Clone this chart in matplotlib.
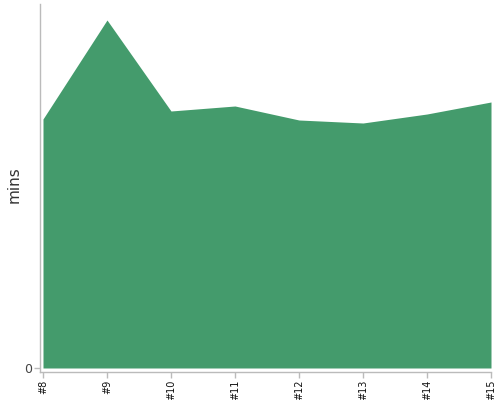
import matplotlib
matplotlib.use("Agg")
import matplotlib.pyplot as plt

races = [8, 9, 10, 11, 12, 13, 14, 15]
labels = ["#8", "#9", "#10", "#11", "#12", "#13", "#14", "#15"]
mins = [249, 348, 257, 262, 248, 245, 254, 266]

fig = plt.figure(figsize=(5, 4), dpi=100)
ax = fig.add_axes([0.08, 0.07, 0.902, 0.92])
ax.fill_between(races, mins, 0, color="#449b6c", linewidth=0)
ax.set_xlim(8 - 3/64, 15)
ax.set_ylim(-4, 364)
ax.set_xticks(races)
ax.set_xticklabels(labels, rotation=90, fontsize=7, color="#111111")
ax.set_yticks([0])
ax.set_yticklabels(["0"], fontsize=9, color="#444444")
ax.set_ylabel("mins", fontsize=11, color="#333333")
ax.yaxis.set_label_coords(-0.04, 0.51)
for s in ["top", "right"]:
    ax.spines[s].set_visible(False)
for s in ["left", "bottom"]:
    ax.spines[s].set_color("#bbbbbb")
    ax.spines[s].set_linewidth(1)
ax.tick_params(axis="both", color="#bbbbbb", length=4, width=1, pad=1.5)
fig.savefig("out.png", dpi=100)
